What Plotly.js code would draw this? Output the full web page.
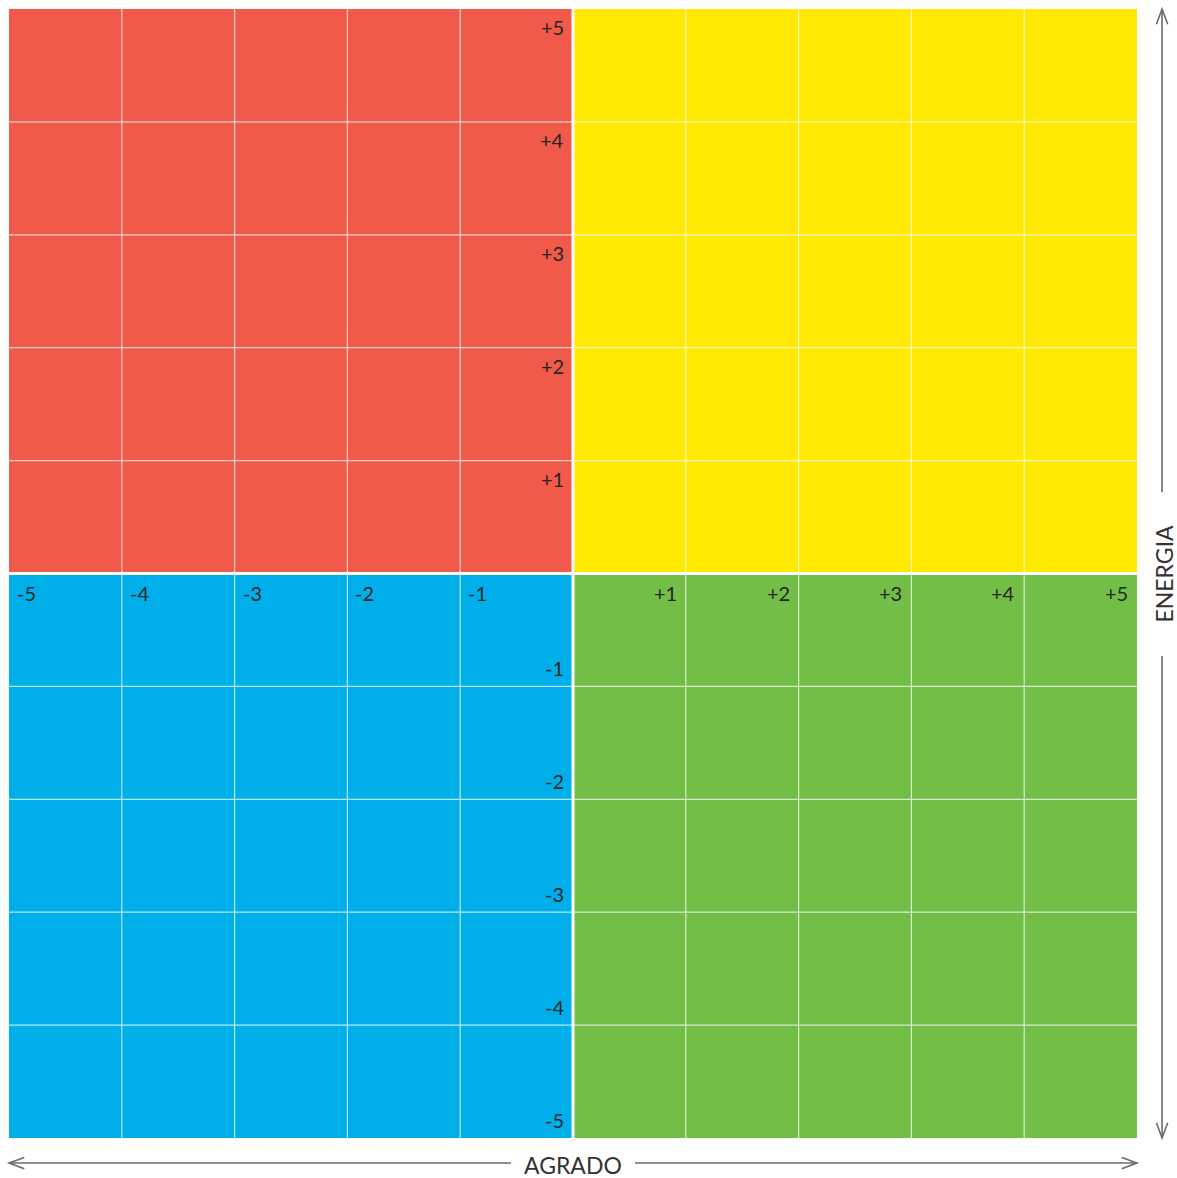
<!DOCTYPE html>
<html>
<head>
<meta charset="utf-8">
<script src="https://cdn.plot.ly/plotly-3.0.1.min.js"></script>
<style>
  html, body { margin: 0; padding: 0; background: #ffffff; }
  #chart { width: 1177px; height: 1178px; }
</style>
</head>
<body>
<div id="chart"></div>
<script>
// ---- data ----
const cellCenters = [-4.5, -3.5, -2.5, -1.5, -0.5, 0.5, 1.5, 2.5, 3.5, 4.5];
const quadrantNames = ['blue', 'red', 'yellow', 'green'];
const quadrantColors = ['#00AEE9', '#F15A4A', '#FFE900', '#72BE46'];
const gridValues = [-4, -3, -2, -1, 1, 2, 3, 4];
const xNegTicks = [-5, -4, -3, -2, -1];
const xNegLabels = ['-5', '-4', '-3', '-2', '-1'];
const xPosTicks = [1, 2, 3, 4, 5];
const xPosLabels = ['+1', '+2', '+3', '+4', '+5'];
const yPosTicks = [5, 4, 3, 2, 1];
const yPosLabels = ['+5', '+4', '+3', '+2', '+1'];
const yNegTicks = [-1, -2, -3, -4, -5];
const yNegLabels = ['-1', '-2', '-3', '-4', '-5'];
const xTitle = 'AGRADO';
const yTitle = 'ENERGIA';

// quadrant index per cell: 0 blue (x<0,y<0), 1 red (x<0,y>0), 2 yellow (x>0,y>0), 3 green (x>0,y<0)
function quadrant(x, y) {
  if (x < 0 && y < 0) return 0;
  if (x < 0 && y > 0) return 1;
  if (x > 0 && y > 0) return 2;
  return 3;
}
const z = cellCenters.map(y => cellCenters.map(x => quadrant(x, y)));

const colorscale = [];
quadrantColors.forEach((c, i) => {
  colorscale.push([i / 4, c]);
  colorscale.push([(i + 1) / 4, c]);
});

const heat = {
  type: 'heatmap',
  x: cellCenters,
  y: cellCenters,
  z: z,
  zmin: -0.5,
  zmax: 3.5,
  colorscale: colorscale,
  showscale: false,
  hoverinfo: 'skip'
};

// ---- decoration geometry (axis units) ----
const lim = 5;
const arrowPos = -5.222;      // horizontal arrow y, vertical arrow x (mirrored)
const headLen = 0.135, headHalf = 0.05;
const lineColor = '#6b6b6b';

const shapes = [];
// thin interior grid lines
gridValues.forEach(v => {
  shapes.push({type: 'line', xref: 'x', yref: 'y', x0: v, x1: v, y0: -lim, y1: lim,
    line: {color: 'rgba(255,255,255,0.72)', width: 1.2}});
  shapes.push({type: 'line', xref: 'x', yref: 'y', x0: -lim, x1: lim, y0: v, y1: v,
    line: {color: 'rgba(255,255,255,0.72)', width: 1.2}});
});
// central white cross
shapes.push({type: 'line', xref: 'x', yref: 'y', x0: 0, x1: 0, y0: -lim, y1: lim,
  line: {color: '#ffffff', width: 3}});
shapes.push({type: 'line', xref: 'x', yref: 'y', x0: -lim, x1: lim, y0: 0, y1: 0,
  line: {color: '#ffffff', width: 3}});

// horizontal arrow (AGRADO)
const hy = arrowPos;
const hGap = [-0.55, 0.55];
shapes.push({type: 'line', x0: -lim, x1: hGap[0], y0: hy, y1: hy, line: {color: lineColor, width: 1.6}});
shapes.push({type: 'line', x0: hGap[1], x1: lim, y0: hy, y1: hy, line: {color: lineColor, width: 1.6}});
shapes.push({type: 'path', path: `M ${-lim + headLen} ${hy + headHalf} L ${-lim} ${hy} L ${-lim + headLen} ${hy - headHalf}`,
  line: {color: lineColor, width: 1.6}});
shapes.push({type: 'path', path: `M ${lim - headLen} ${hy + headHalf} L ${lim} ${hy} L ${lim - headLen} ${hy - headHalf}`,
  line: {color: lineColor, width: 1.6}});

// vertical arrow (ENERGIA)
const vx = -arrowPos;
const vGap = [-0.73, 0.72];
shapes.push({type: 'line', x0: vx, x1: vx, y0: -lim, y1: vGap[0], line: {color: lineColor, width: 1.6}});
shapes.push({type: 'line', x0: vx, x1: vx, y0: vGap[1], y1: lim, line: {color: lineColor, width: 1.6}});
shapes.push({type: 'path', path: `M ${vx - headHalf} ${lim - headLen} L ${vx} ${lim} L ${vx + headHalf} ${lim - headLen}`,
  line: {color: lineColor, width: 1.6}});
shapes.push({type: 'path', path: `M ${vx - headHalf} ${-lim + headLen} L ${vx} ${-lim} L ${vx + headHalf} ${-lim + headLen}`,
  line: {color: lineColor, width: 1.6}});
shapes.forEach(s => { if (!s.xref) { s.xref = 'x'; s.yref = 'y'; } });

// ---- labels ----
const labFont = {family: 'Lato, "Open Sans", sans-serif', size: 20, color: '#262626'};
const annotations = [];
yPosTicks.forEach((v, i) => annotations.push({x: 0, y: v, text: yPosLabels[i], showarrow: false,
  xanchor: 'right', yanchor: 'top', xshift: -7, yshift: -4, font: labFont}));
yNegTicks.forEach((v, i) => annotations.push({x: 0, y: v, text: yNegLabels[i], showarrow: false,
  xanchor: 'right', yanchor: 'bottom', xshift: -7, yshift: 4, font: labFont}));
xNegTicks.forEach((v, i) => annotations.push({x: v, y: 0, text: xNegLabels[i], showarrow: false,
  xanchor: 'left', yanchor: 'top', xshift: 6, yshift: -5, font: labFont}));
xPosTicks.forEach((v, i) => annotations.push({x: v, y: 0, text: xPosLabels[i], showarrow: false,
  xanchor: 'right', yanchor: 'top', xshift: -7, yshift: -5, font: labFont}));

const titleFont = {family: 'Lato, "Open Sans", sans-serif', size: 23, color: '#333333'};
annotations.push({x: 0, y: hy, text: xTitle, showarrow: false, xanchor: 'center', yanchor: 'middle',
  yshift: -2, font: titleFont});
annotations.push({x: vx, y: 0, text: yTitle, showarrow: false, xanchor: 'center', yanchor: 'middle',
  textangle: -90, xshift: 1, font: titleFont});

const layout = {
  width: 1177,
  height: 1178,
  margin: {l: 0, r: 0, t: 0, b: 0, pad: 0},
  paper_bgcolor: '#ffffff',
  plot_bgcolor: '#ffffff',
  showlegend: false,
  xaxis: {range: [-573 / 112.8, 604 / 112.8], visible: false, fixedrange: true},
  yaxis: {range: [-604.5 / 112.9, 573.5 / 112.9], visible: false, fixedrange: true},
  shapes: shapes,
  annotations: annotations
};

Plotly.newPlot('chart', [heat], layout, {displayModeBar: false, staticPlot: true});
</script>
</body>
</html>
